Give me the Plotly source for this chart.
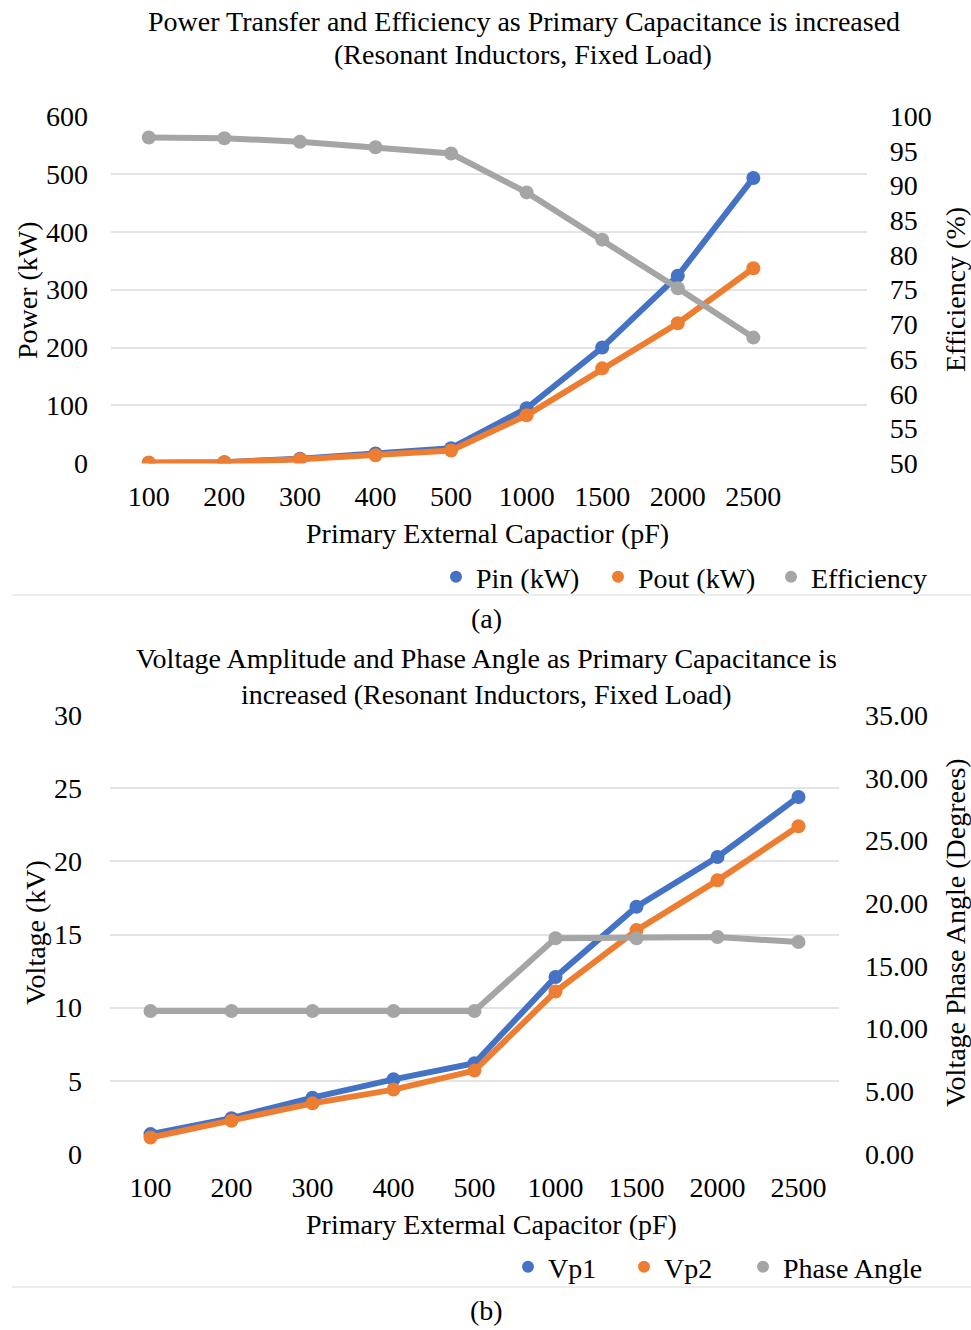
import plotly.graph_objects as go

# ---------------- data ----------------
capacitance = ["100", "200", "300", "400", "500", "1000", "1500", "2000", "2500"]

pin_kw = [1, 2, 8, 17, 26, 95, 200, 324, 493]
pout_kw = [1, 2, 7, 14, 22, 83, 164, 242, 337]
efficiency = [96.9, 96.8, 96.3, 95.5, 94.6, 89.0, 82.2, 75.2, 68.1]

vp1 = [1.36, 2.45, 3.85, 5.1, 6.2, 12.1, 16.9, 20.3, 24.4]
vp2 = [1.13, 2.27, 3.46, 4.4, 5.7, 11.1, 15.3, 18.7, 22.4]
phase_angle = [11.4, 11.4, 11.4, 11.4, 11.4, 17.2, 17.2, 17.3, 16.9]

# ---------------- styles ----------------
BLUE = "#4472C4"
ORANGE = "#ED7D31"
GRAY = "#A5A5A5"
FONT = "Liberation Serif"
FS = 28
W, H = 971, 1330


def px(x):
    return x / W


def py(y):
    return 1 - y / H


fig = go.Figure()

line_w = 6
msize = 14


def series(x, y, name, col, xa, ya):
    fig.add_trace(go.Scatter(x=x, y=y, name=name, mode="lines+markers",
                             line=dict(color=col, width=line_w),
                             marker=dict(size=msize, color=col),
                             xaxis=xa, yaxis=ya, showlegend=False))


# top chart
series(capacitance, pin_kw, "Pin (kW)", BLUE, "x", "y")
series(capacitance, pout_kw, "Pout (kW)", ORANGE, "x", "y")
series(capacitance, efficiency, "Efficiency", GRAY, "x", "y2")
# bottom chart
series(capacitance, vp1, "Vp1", BLUE, "x2", "y3")
series(capacitance, vp2, "Vp2", ORANGE, "x2", "y3")
series(capacitance, phase_angle, "Phase Angle", GRAY, "x2", "y4")

# legend entries (marker only, like the Excel legend keys); one legend per entry
legend_items = [
    ("Pin (kW)", BLUE, "x", "y", "legend", 436, 577),
    ("Pout (kW)", ORANGE, "x", "y", "legend2", 598, 577),
    ("Efficiency", GRAY, "x", "y", "legend3", 771, 577),
    ("Vp1", BLUE, "x2", "y3", "legend4", 508, 1267),
    ("Vp2", ORANGE, "x2", "y3", "legend5", 624, 1267),
    ("Phase Angle", GRAY, "x2", "y3", "legend6", 743, 1267),
]
legend_layouts = {}
for name, col, xa, ya, lg, lx, ly in legend_items:
    fig.add_trace(go.Scatter(x=[None], y=[None], name=name, mode="markers",
                             marker=dict(size=12, color=col), xaxis=xa, yaxis=ya,
                             legend=lg, showlegend=True))
    legend_layouts[lg] = dict(orientation="h", x=px(lx), y=py(ly), xanchor="left",
                              yanchor="middle", bgcolor="rgba(0,0,0,0)",
                              font=dict(family=FONT, size=FS, color="black"))

grid = "#e4e4e4"
tickfont = dict(family=FONT, size=FS, color="black")
common = dict(zeroline=False, showline=False, ticks="", tickfont=tickfont, automargin=False)

fig.update_layout(
    width=W, height=H,
    margin=dict(l=0, r=0, t=0, b=0, autoexpand=False),
    paper_bgcolor="white", plot_bgcolor="white",
    font=dict(family=FONT, size=FS, color="black"),
    xaxis=dict(domain=[px(111), px(866.7)], anchor="y", type="category",
               categoryorder="array", categoryarray=capacitance,
               range=[-0.5, 9.5], showgrid=False, ticklabelstandoff=14, **common),
    yaxis=dict(domain=[py(463.3), py(116)], anchor="x", range=[0, 600], dtick=100,
               showgrid=True, gridcolor=grid, gridwidth=1.5, ticklabelstandoff=22, **common),
    yaxis2=dict(overlaying="y", side="right", anchor="x", range=[50, 100], dtick=5,
                showgrid=False, ticklabelstandoff=22, **common),
    xaxis2=dict(domain=[px(110), px(839)], anchor="y3", type="category",
                categoryorder="array", categoryarray=capacitance,
                range=[-0.5, 8.5], showgrid=False, ticklabelstandoff=14, **common),
    yaxis3=dict(domain=[py(1154), py(715)], anchor="x2", range=[0, 30], dtick=5,
                showgrid=True, gridcolor=grid, gridwidth=1.5, ticklabelstandoff=27, **common),
    yaxis4=dict(overlaying="y3", side="right", anchor="x2", range=[0, 35], dtick=5,
                tickformat=".2f", showgrid=False, ticklabelstandoff=25, **common),
    **legend_layouts,
)

annos = [
    ("Power Transfer and Efficiency as Primary Capacitance is increased", 524, 22, 0),
    ("(Resonant Inductors, Fixed Load)", 523, 54, 0),
    ("Primary External Capactior (pF)", 488, 533, 0),
    ("Power (kW)", 27, 290, -90),
    ("Efficiency (%)", 955, 290, -90),
    ("(a)", 487, 619, 0),
    ("Voltage Amplitude and Phase Angle as Primary Capacitance is", 487, 659, 0),
    ("increased (Resonant Inductors, Fixed Load)", 487, 694, 0),
    ("Primary Extermal Capacitor (pF)", 491, 1224, 0),
    ("Voltage (kV)", 35, 933, -90),
    ("Voltage Phase Angle (Degrees)", 955, 933, -90),
    ("(b)", 487, 1310, 0),
]
for text, x, y, ang in annos:
    fig.add_annotation(text=text, x=px(x), y=py(y), xref="paper", yref="paper",
                       xanchor="center", yanchor="middle", showarrow=False, textangle=ang,
                       font=dict(family=FONT, size=FS, color="black"))

# faint separators between the panels
for yy in (595, 1287):
    fig.add_shape(type="line", xref="paper", yref="paper", x0=px(12), x1=1, y0=py(yy), y1=py(yy),
                  line=dict(color="#e6e6e6", width=1.5))

fig.write_html("out.html")
